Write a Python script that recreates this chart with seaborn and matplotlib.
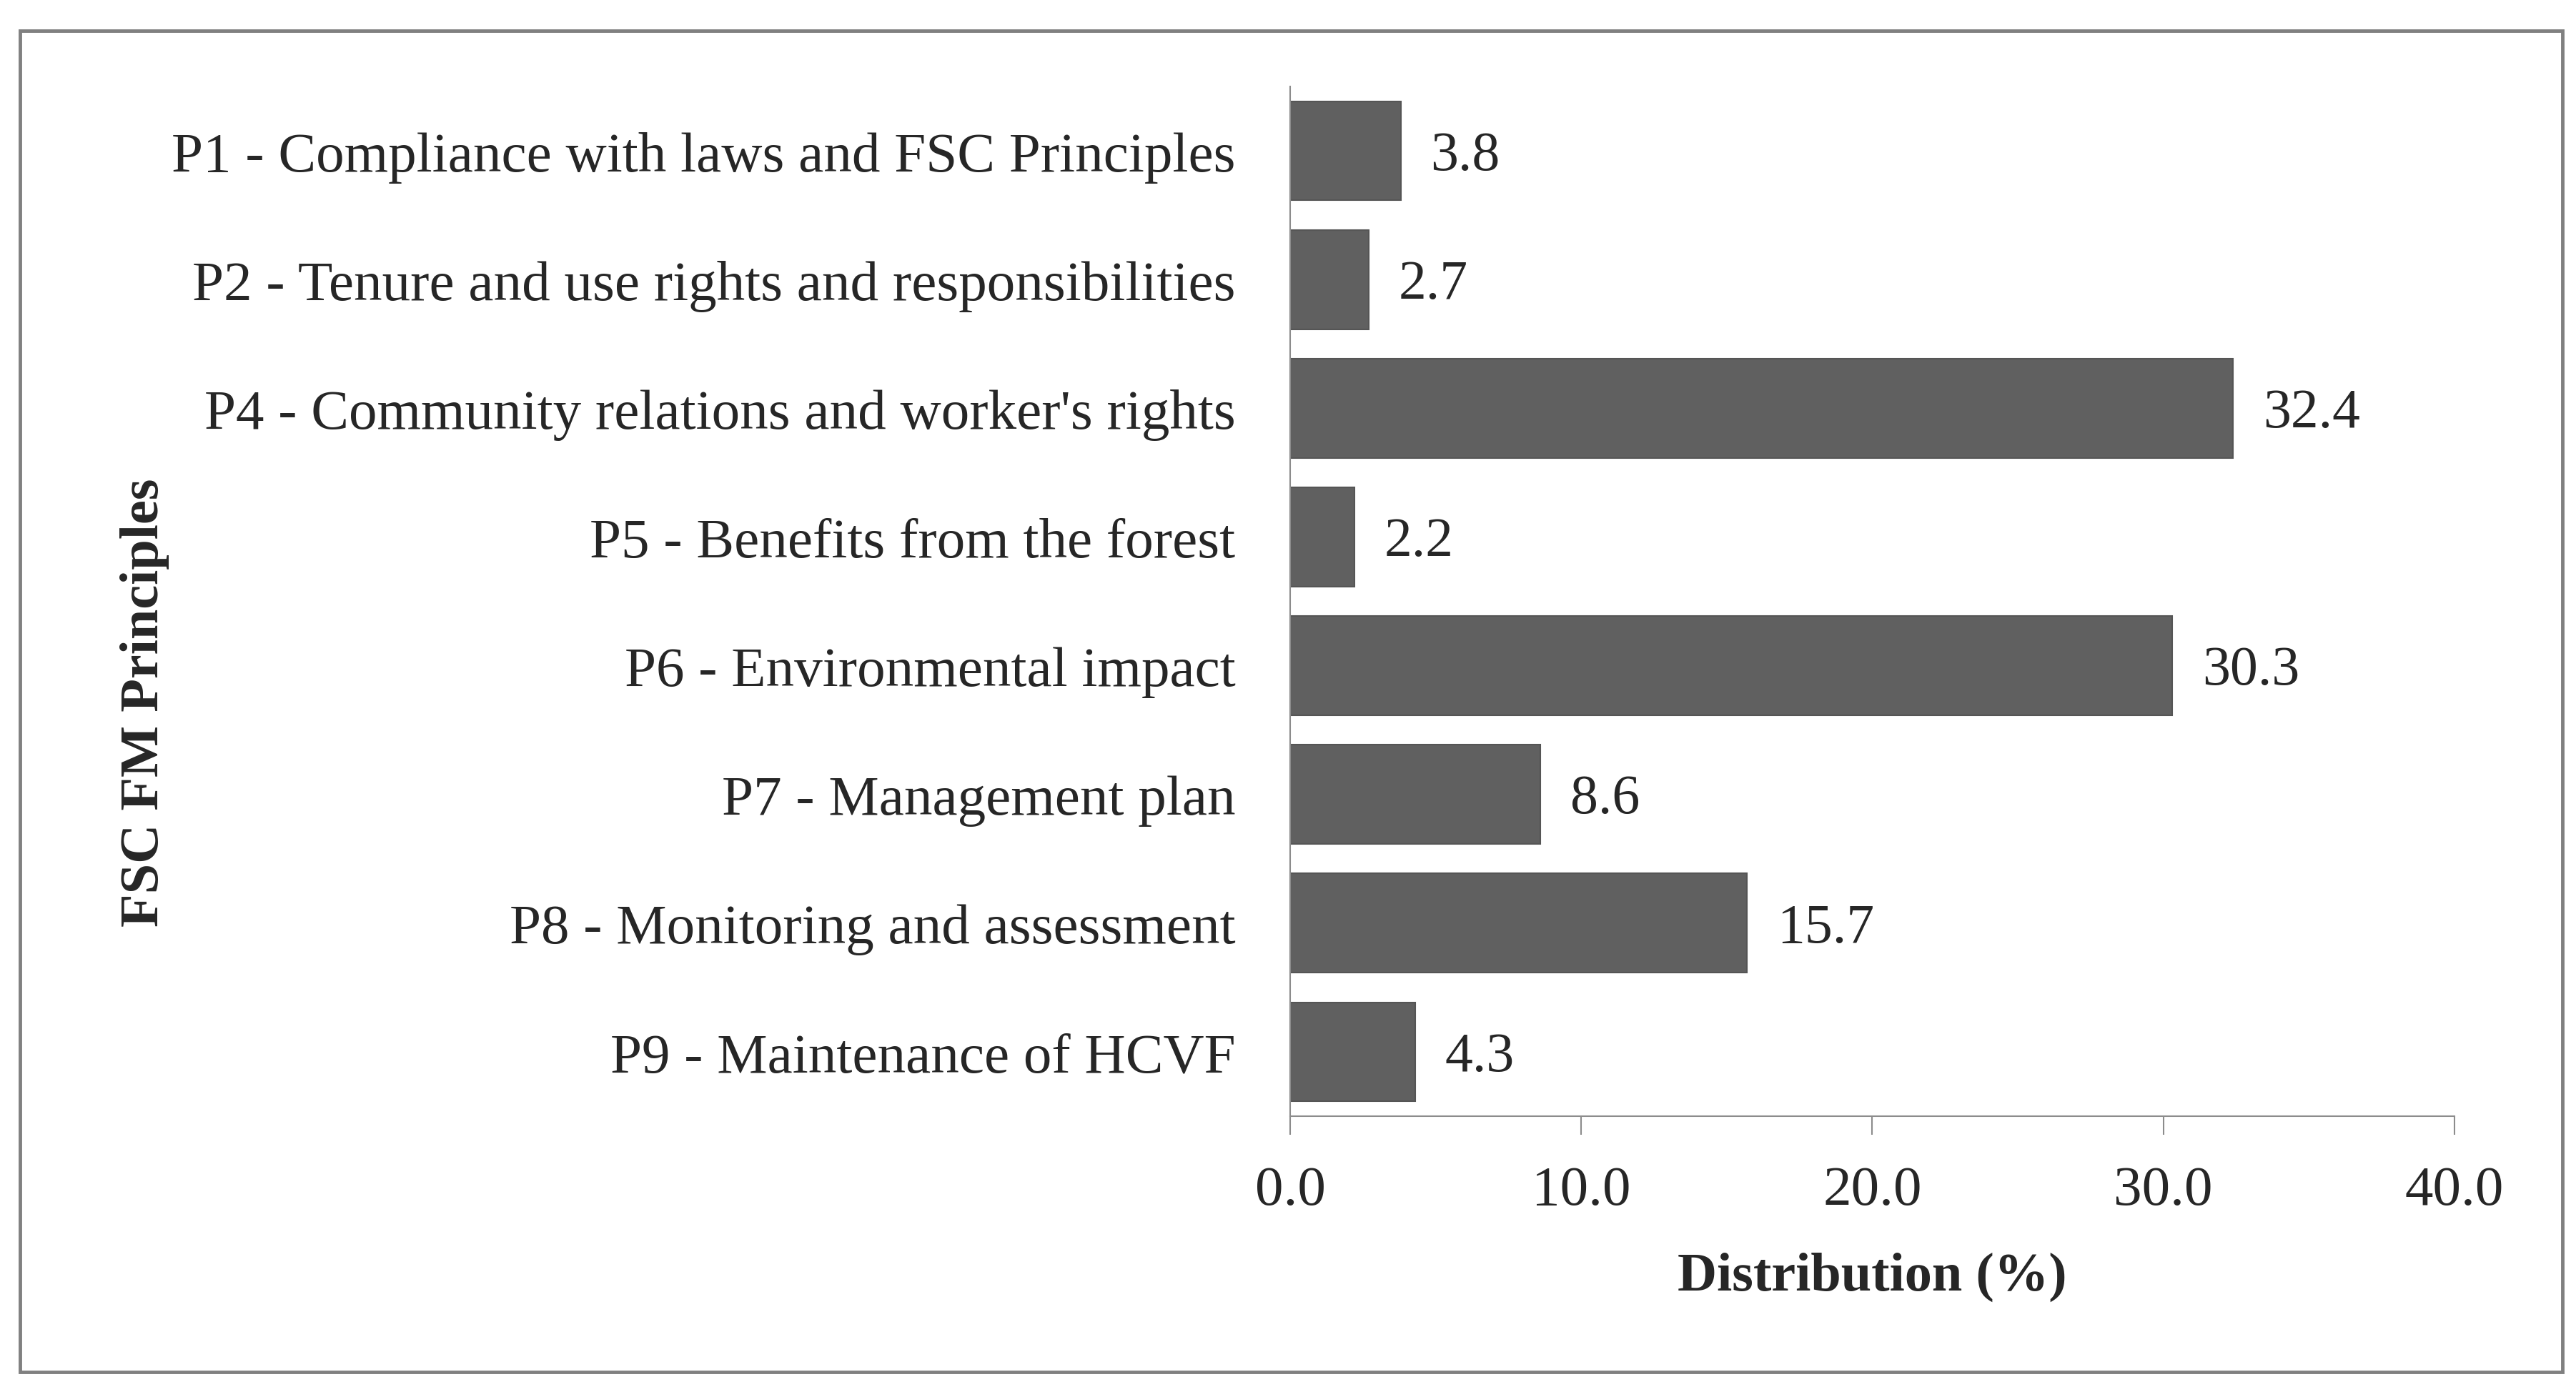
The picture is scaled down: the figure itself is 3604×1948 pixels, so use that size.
import matplotlib
matplotlib.use("Agg")
import matplotlib.pyplot as plt
import seaborn as sns
import pandas as pd
from matplotlib.patches import Rectangle

principles = [
    "P1 - Compliance with laws and FSC Principles",
    "P2 - Tenure and use rights and responsibilities",
    "P4 - Community relations and worker's rights",
    "P5 - Benefits from the forest",
    "P6 - Environmental impact",
    "P7 - Management plan",
    "P8 - Monitoring and assessment",
    "P9 - Maintenance of HCVF",
]
distribution = [3.8, 2.7, 32.4, 2.2, 30.3, 8.6, 15.7, 4.3]
x_ticks = [0, 10, 20, 30, 40]

df = pd.DataFrame({"principle": principles, "distribution": distribution})

sns.set_style("white")
plt.rcParams["font.family"] = ["Liberation Serif", "DejaVu Serif"]

W, H = 3605, 1949
fig = plt.figure(figsize=(W / 100, H / 100), dpi=100)

# axes placed in pixel terms of the reference
left, right, top, bottom = 1805, 3434, 122, 1563
ax = fig.add_axes([left / W, 1 - bottom / H, (right - left) / W, (bottom - top) / H])

sns.barplot(data=df, x="distribution", y="principle", orient="h", color="#606060",
            edgecolor="#555555", linewidth=1.5, width=0.77, saturation=1, ax=ax)

# value labels just right of each bar, slightly below centre like the original
for bar, val in zip(ax.patches, distribution):
    ax.annotate(f"{val:.1f}", (bar.get_width(), bar.get_y() + bar.get_height() / 2),
                xytext=(30, -5), textcoords="offset points",
                ha="left", va="center", fontsize=56)

ax.set_xlim(0, 40)
ax.set_xticks(x_ticks)
ax.set_xticklabels([f"{t:.1f}" for t in x_ticks])
ax.tick_params(axis="x", direction="out", length=19, width=1.5, color="#8c8c8c",
               labelsize=57, pad=30, bottom=True)
ax.tick_params(axis="y", length=0, labelsize=57, pad=55)

for side in ["top", "right"]:
    ax.spines[side].set_visible(False)
for side in ["left", "bottom"]:
    ax.spines[side].set_color("#8c8c8c")
    ax.spines[side].set_linewidth(1.5)

ax.set_xlabel("Distribution (%)", fontsize=55, fontweight="bold", labelpad=36)
ax.set_ylabel("")
fig.text(203 / W, 1 - 983 / H, "FSC FM Principles", rotation=90, fontsize=55,
         fontweight="bold", ha="center", va="center")

# outer frame
fig.patches.append(Rectangle((28 / W, 1 - 1921 / H), (3585 - 28) / W, (1921 - 44) / H,
                             transform=fig.transFigure, fill=False,
                             edgecolor="#808080", linewidth=3.5))

fig.savefig("out.png", dpi=100, facecolor="white")
